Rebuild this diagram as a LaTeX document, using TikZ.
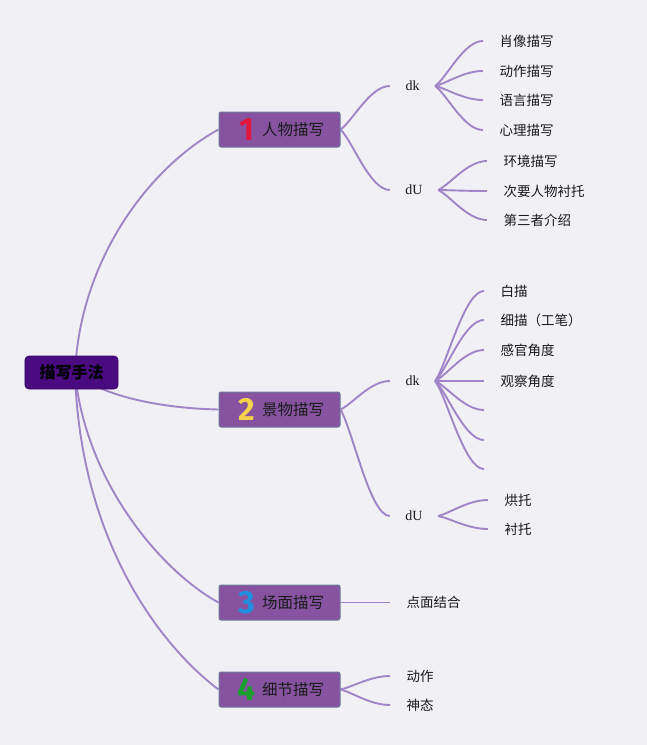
\documentclass[tikz,border=0pt]{standalone}
\usepackage{fontspec}
\newfontfamily\cjk{Noto Sans CJK SC}
\newfontfamily\numfont{Fira Sans}
\newfontfamily\serifabc{Liberation Serif}
\usetikzlibrary{calc}
\definecolor{bgc}{HTML}{F1F0F4}
\definecolor{rootc}{HTML}{4A0A80}
\definecolor{rootd}{HTML}{3A0868}
\definecolor{brc}{HTML}{8753A1}
\definecolor{brd}{HTML}{6B7C9A}
\definecolor{linec}{HTML}{A085C8}
\definecolor{txt}{HTML}{1A1A1A}
\definecolor{n1}{HTML}{E3173D}
\definecolor{n2}{HTML}{F4D24C}
\definecolor{n3}{HTML}{1F8FE0}
\definecolor{n4}{HTML}{17A02B}
\pgfdeclarelayer{bgfill}
\pgfdeclarelayer{edges}
\pgfsetlayers{bgfill,edges,main}
\newcommand{\mybr}[3]{\hbox to 121bp{\hskip20bp\makebox[16bp][c]{\raisebox{-5bp}{\numfont\bfseries\fontsize{32bp}{32bp}\selectfont\color{#1}#2}}\hskip7bp{\cjk\fontsize{15.5bp}{18bp}\selectfont\color{txt}#3}\hss}}
\tikzset{
  rootbox/.style={draw=rootd, fill=rootc, line width=0.8bp, rounded corners=4bp, minimum width=93bp, minimum height=33bp, inner sep=0pt, text=black, font=\fontsize{16bp}{18bp}\selectfont\cjk\bfseries},
  brbox/.style={draw=brd, fill=brc, line width=1bp, rounded corners=2bp, minimum width=121bp, minimum height=35bp, inner sep=0pt},
  subn/.style={inner sep=0pt, text=txt, font=\fontsize{14bp}{16bp}\selectfont\serifabc},
  leaf/.style={anchor=west, inner xsep=16.5bp, inner ysep=0pt, text=txt, font=\fontsize{13.5bp}{16bp}\selectfont\cjk},
  edge/.style={draw=linec, line width=1.9bp},
  sc/.style={to path={let \p1=(\tikztostart), \p2=(\tikztotarget) in .. controls ({\x1+0.25*(\x2-\x1)},{\y1+0.2*(\y2-\y1)}) and ({\x1+0.6*(\x2-\x1)},\y2) .. (\tikztotarget) \tikztonodes}}
}
\begin{document}
\begin{tikzpicture}[x=1bp,y=-1bp]
\useasboundingbox (0,0) rectangle (647,745);
\begin{pgfonlayer}{bgfill}
\fill[bgc] (0,0) rectangle (647,745);
\end{pgfonlayer}

\node[rootbox] (root) at (71.5,372.5) {描写手法};
\node[brbox] (b1) at (279.5,129.5) {\mybr{n1}{1}{人物描写}};
\node[brbox] (b2) at (279.5,409.5) {\mybr{n2}{2}{景物描写}};
\node[brbox] (b3) at (279.5,602.5) {\mybr{n3}{3}{场面描写}};
\node[brbox] (b4) at (279.5,689.5) {\mybr{n4}{4}{细节描写}};

\node[subn, minimum width=45bp] (k1) at (412.5,86) {dk};
\node[subn, minimum width=48bp] (u1) at (414,190) {dU};
\node[subn, minimum width=45bp] (k2) at (412.5,381) {dk};
\node[subn, minimum width=48bp] (u2) at (414,516) {dU};

\node[leaf] (a1) at (483,41) {肖像描写};
\node[leaf] (a2) at (483,71) {动作描写};
\node[leaf] (a3) at (483,100) {语言描写};
\node[leaf] (a4) at (483,130) {心理描写};
\node[leaf] (c1) at (487,161) {环境描写};
\node[leaf] (c2) at (487,191) {次要人物衬托};
\node[leaf] (c3) at (487,220) {第三者介绍};
\node[leaf] (d1) at (484,291) {白描};
\node[leaf] (d2) at (484,320) {细描（工笔）};
\node[leaf] (d3) at (484,350) {感官角度};
\node[leaf] (d4) at (484,381) {观察角度};
\coordinate (d5) at (484,410);
\coordinate (d6) at (484,440);
\coordinate (d7) at (484,469);
\node[leaf] (f1) at (488,500) {烘托};
\node[leaf] (f2) at (488,529) {衬托};
\node[leaf] (g1) at (390,602.5) {点面结合};
\node[leaf] (h1) at (390,676) {动作};
\node[leaf] (h2) at (390,705) {神态};

\begin{pgfonlayer}{edges}
\draw[edge] ([xshift=3.5bp]root.center) .. controls ($(root.center)+(8.5,-112.5)$) and ($(b1.west)+(-70,38.5)$) .. (b1.west);
\draw[edge] ([xshift=3.5bp]root.center) .. controls ($(root.center)+(23.5,19.5)$) and ($(b2.west)+(-69,-1.5)$) .. (b2.west);
\draw[edge] ([xshift=3.5bp]root.center) .. controls ($(root.center)+(13.5,107.5)$) and ($(b3.west)+(-59,-32.5)$) .. (b3.west);
\draw[edge] ([xshift=3.5bp]root.center) .. controls ($(root.center)+(8.5,167.5)$) and ($(b4.west)+(-59,-44.5)$) .. (b4.west);

\draw[edge] (b1.east) to[sc] (k1.west);
\draw[edge] (b1.east) to[sc] (u1.west);
\draw[edge] (b2.east) to[sc] (k2.west);
\draw[edge] (b2.east) to[sc] (u2.west);
\draw[edge] (b3.east) -- (g1.west);
\draw[edge] (b4.east) to[sc] (h1.west);
\draw[edge] (b4.east) to[sc] (h2.west);

\draw[edge] (k1.east) to[sc] (a1.west);
\draw[edge] (k1.east) to[sc] (a2.west);
\draw[edge] (k1.east) to[sc] (a3.west);
\draw[edge] (k1.east) to[sc] (a4.west);
\draw[edge] (u1.east) to[sc] (c1.west);
\draw[edge] (u1.east) to[sc] (c2.west);
\draw[edge] (u1.east) to[sc] (c3.west);
\draw[edge] (k2.east) to[sc] (d1.west);
\draw[edge] (k2.east) to[sc] (d2.west);
\draw[edge] (k2.east) to[sc] (d3.west);
\draw[edge] (k2.east) to[sc] (d4.west);
\draw[edge] (k2.east) to[sc] (d5);
\draw[edge] (k2.east) to[sc] (d6);
\draw[edge] (k2.east) to[sc] (d7);
\draw[edge] (u2.east) to[sc] (f1.west);
\draw[edge] (u2.east) to[sc] (f2.west);
\end{pgfonlayer}
\end{tikzpicture}
\end{document}
